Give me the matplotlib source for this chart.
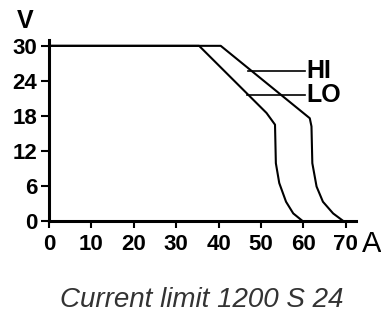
import matplotlib
matplotlib.use("Agg")
import matplotlib.pyplot as plt

hi_x = [0, 40.5, 61.5, 61.9, 62.1, 63.1, 64.6, 67.0, 69.4]
hi_y = [30, 30, 17.6, 16.2, 9.9, 5.9, 3.3, 1.3, 0]
lo_x = [0, 35.4, 51.3, 53.3, 53.5, 54.3, 55.9, 57.6, 59.8]
lo_y = [30, 30, 18.5, 16.5, 9.9, 6.5, 3.3, 1.3, 0]
x_ticks = [0, 10, 20, 30, 40, 50, 60, 70]
y_ticks = [0, 6, 12, 18, 24, 30]
title = "Current limit 1200 S 24"

fig = plt.figure(figsize=(3.81, 3.15), dpi=100)
ax = fig.add_axes([49/381, (315-221)/315, (356-49)/381, (221-40)/315])
ax.plot(hi_x, hi_y, color="black", lw=1.5, solid_joinstyle="round")
ax.plot(lo_x, lo_y, color="black", lw=1.5, solid_joinstyle="round")
ax.set_xlim(0, 72.4)
ax.set_ylim(0, 31)
for s in ["top", "right"]:
    ax.spines[s].set_visible(False)
for s in ["left", "bottom"]:
    ax.spines[s].set_linewidth(2.2)
ax.set_xticks(x_ticks)
ax.set_yticks(y_ticks)
ax.tick_params(axis="x", length=5, width=1.5, pad=4)
ax.tick_params(axis="y", length=5.5, width=1.5, pad=3)
for lab in ax.get_xticklabels() + ax.get_yticklabels():
    lab.set_fontfamily("Liberation Sans")
    lab.set_fontweight("bold")
    lab.set_fontsize(16)

# leader lines and labels
ax.plot([46.9, 60.3], [25.7, 25.7], color="black", lw=1.2)
ax.plot([46.7, 60.3], [21.6, 21.6], color="black", lw=1.2)
ax.text(60.8, 25.7, "HI", fontfamily="Liberation Sans", fontweight="bold", fontsize=18, va="center", ha="left")
ax.text(60.8, 21.6, "LO", fontfamily="Liberation Sans", fontweight="bold", fontsize=18, va="center", ha="left")

fig.text(25/381, 1 - 21/315, "V", fontfamily="Liberation Sans", fontweight="bold", fontsize=18, ha="center", va="center")
fig.text(372/381, 1 - 244/315, "A", fontfamily="Liberation Sans", fontsize=21, ha="center", va="center")
fig.text(202/381, 1 - 300/315, title, fontfamily="Liberation Sans", fontstyle="italic", fontsize=20, color="#333333", ha="center", va="center")

fig.savefig("out.png", dpi=100)
